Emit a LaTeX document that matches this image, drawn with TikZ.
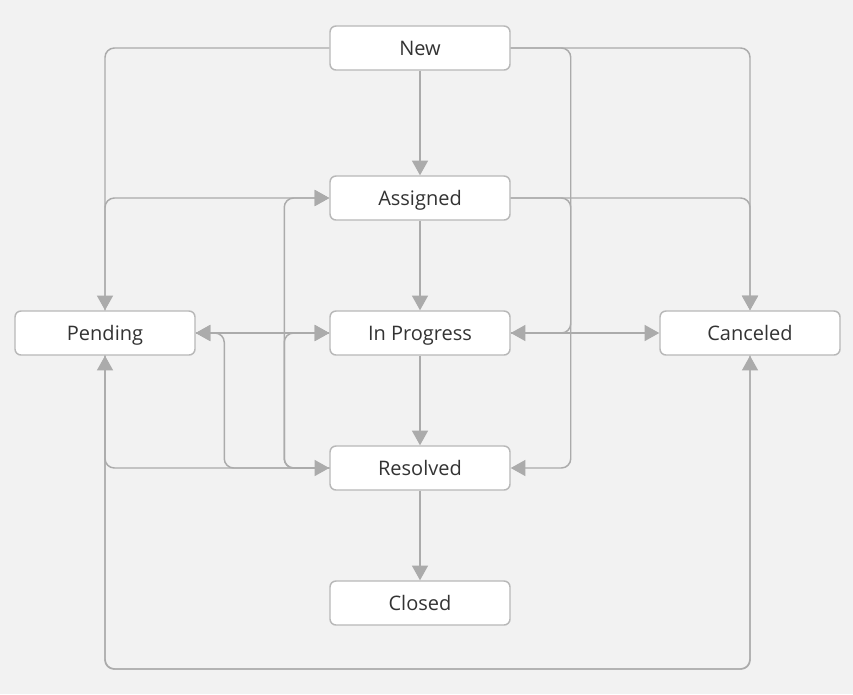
\documentclass[tikz,border=0pt]{standalone}
\usepackage{fontspec}
\setmainfont{Open Sans}
\usepackage{xcolor}
\usepackage{tikz}
\usetikzlibrary{arrows.meta,positioning,calc}
\definecolor{bgGray}{HTML}{F2F2F2}
\definecolor{boxLine}{HTML}{B8B8B8}
\definecolor{wireGray}{HTML}{ABABAB}
\definecolor{textDark}{HTML}{333333}

\begin{document}
\begin{tikzpicture}[x=0.75pt, y=-0.75pt]
  % Ticket State Machine
  \tikzstyle{state} = [rectangle, rounded corners=4.5pt, fill=white, draw=boxLine, line width=1.1pt, minimum width=135pt, minimum height=33pt, inner ysep=0pt, text height=12.5pt, text depth=1.7pt, font=\fontsize{15}{17}\selectfont, text=textDark, align=center]
  \tikzstyle{transition} = [line width=1.1pt, draw=wireGray, rounded corners=7pt, -{Triangle[length=11pt, width=12pt, fill=wireGray]}]

  % Background
  \fill[bgGray] (0,0) rectangle (853,694);
  \useasboundingbox (0,0) rectangle (853,694);

  % Main Column
  \node[state] (new) at (420, 48) {New};
  \node[state] (assigned) at (420, 198) {Assigned};
  \node[state] (inprog) at (420, 333) {In Progress};
  \node[state] (resolved) at (420, 468) {Resolved};
  \node[state] (closed) at (420, 603) {Closed};

  % Side States
  \node[state] (pending) at (105, 333) {Pending};
  \node[state] (canceled) at (750, 333) {Canceled};
  \coordinate (loop) at (420, 669);

  % Straight Transitions
  \draw[transition] (new) -- (assigned);
  \draw[transition] (assigned) -- (inprog);
  \draw[transition] (inprog) -- (resolved);
  \draw[transition] (resolved) -- (closed);
  \draw[transition] (inprog) -- (canceled);
  \draw[transition] (inprog) -- (pending);
  \draw[transition] (pending) -- (inprog);

  % Transitions from New
  \draw[transition] (new.west) -| (pending.north);
  \draw[transition] (new.east) -| (canceled.north);
  \draw[transition] (new.east) -- ++(60,0) |- (inprog.east);

  % Transitions from Assigned
  \draw[transition] (assigned.east) -| (canceled.north);
  \draw[transition] (assigned.east) -- ++(60,0) |- (resolved.east);

  % Transitions from Pending
  \draw[transition] (pending.north) |- (assigned.west);
  \draw[transition] (pending.south) |- (resolved.west);
  \draw[transition] (pending.south) |- (loop) -| (canceled.south);
  \draw[transition] (canceled.south) |- (loop) -| (pending.south);

  % Transitions from Resolved
  \draw[transition] (resolved.west) -- ++(-45,0) |- (assigned.west);
  \draw[transition] (resolved.west) -- ++(-45,0) |- (inprog.west);
  \draw[transition] (resolved.west) -- ++(-105,0) |- (pending.east);

\end{tikzpicture}
\end{document}
